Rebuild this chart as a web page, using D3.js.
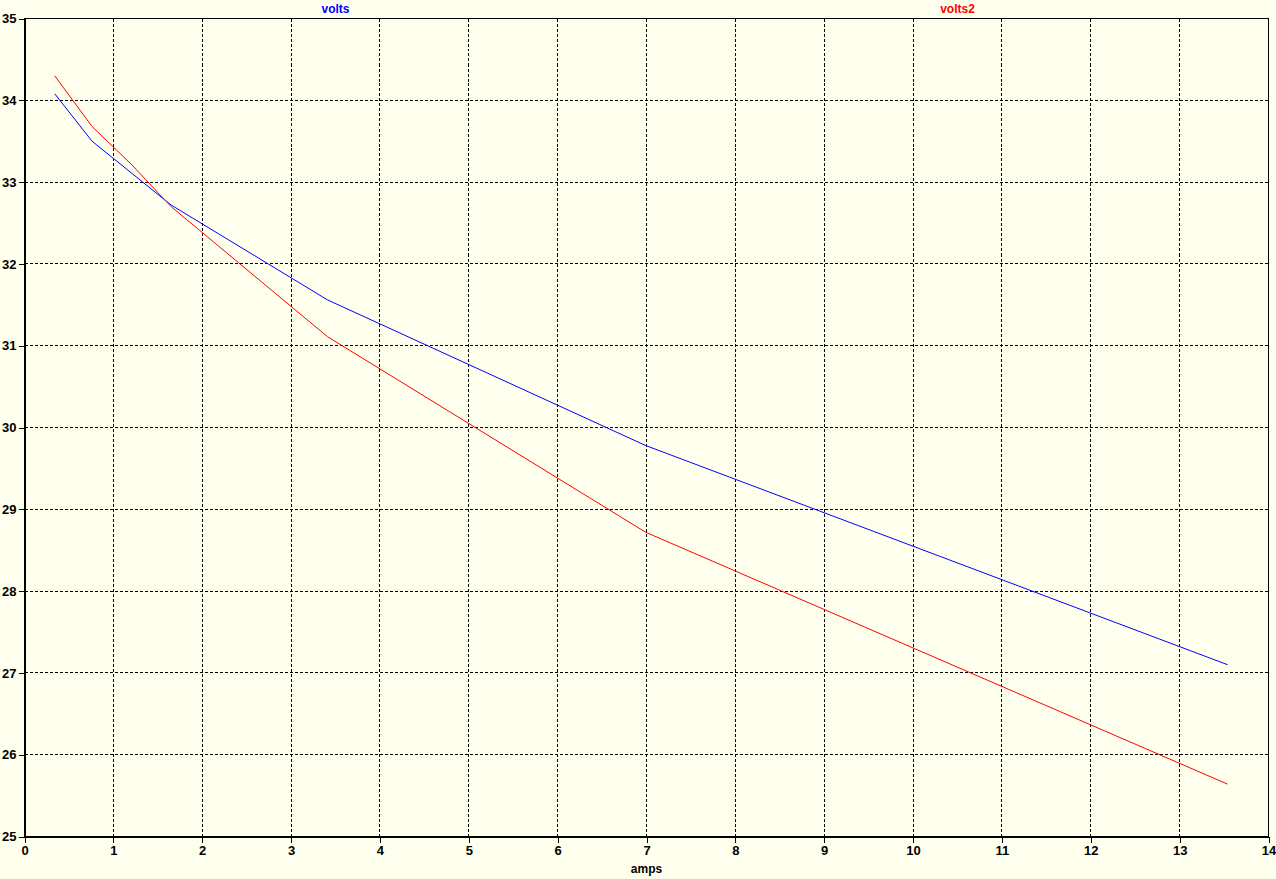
<!DOCTYPE html>
<html>
<head>
<meta charset="utf-8">
<script src="https://cdn.jsdelivr.net/npm/d3@7"></script>
<style>
html, body { margin: 0; padding: 0; background: #ffffee; }
svg { display: block; }
text { font-family: "Liberation Sans", Arial, sans-serif; font-weight: bold; font-size: 12px; }
</style>
</head>
<body>
<script>
// Data
const ampsVolts = [0.34, 0.76, 1.65, 3.41, 6.99, 13.54];
const volts = [34.08, 33.50, 32.72, 31.56, 29.78, 27.10];
const ampsVolts2 = [0.34, 0.76, 1.2, 1.65, 3.41, 6.99, 13.54];
const volts2 = [34.30, 33.68, 33.22, 32.70, 31.11, 28.72, 25.64];
const xTicks = [0,1,2,3,4,5,6,7,8,9,10,11,12,13,14];
const yTicks = [25,26,27,28,29,30,31,32,33,34,35];
const seriesNames = ["volts", "volts2"];
const seriesColors = ["#0000ff", "#ff0000"];
const xLabel = "amps";

const W = 1276, H = 879;
const m = { left: 24.5, right: 7.5, top: 18.5, bottom: 42.5 };

const svg = d3.select("body").append("svg").attr("width", W).attr("height", H);
svg.append("rect").attr("width", W).attr("height", H).attr("fill", "#ffffee");

const x = d3.scaleLinear().domain([0, 14]).range([m.left, W - m.right]);
const y = d3.scaleLinear().domain([25, 35]).range([H - m.bottom, m.top]);

const snap = v => Math.round(v - 0.5) + 0.5;

// grid
const grid = svg.append("g").attr("stroke", "#000").attr("stroke-width", 1)
  .attr("stroke-dasharray", "3,2").attr("shape-rendering", "crispEdges");
xTicks.slice(1, -1).forEach(t => {
  grid.append("line").attr("x1", snap(x(t))).attr("x2", snap(x(t)))
    .attr("y1", y(35)).attr("y2", y(25));
});
yTicks.slice(1, -1).forEach(t => {
  grid.append("line").attr("y1", snap(y(t))).attr("y2", snap(y(t)))
    .attr("x1", x(0)).attr("x2", x(14));
});

// frame
svg.append("rect").attr("x", x(0)).attr("y", y(35))
  .attr("width", x(14) - x(0)).attr("height", y(25) - y(35))
  .attr("fill", "none").attr("stroke", "#000").attr("shape-rendering", "crispEdges");

// axes
const xAxis = d3.axisBottom(x).tickValues(xTicks).tickSize(6).tickSizeOuter(0).tickPadding(3);
const gx = svg.append("g").attr("transform", `translate(0,${y(25)})`).call(xAxis);
const yAxis = d3.axisLeft(y).tickValues(yTicks).tickSize(6).tickSizeOuter(0).tickPadding(2);
const gy = svg.append("g").attr("transform", `translate(${x(0)},0)`).call(yAxis);
[gx, gy].forEach(g => {
  g.select(".domain").attr("stroke", "#000").attr("shape-rendering", "crispEdges");
  g.selectAll(".tick line").attr("stroke", "#000").attr("shape-rendering", "crispEdges");
  g.selectAll(".tick text").attr("fill", "#000")
    .style("font-family", "'Liberation Sans', Arial, sans-serif")
    .style("font-weight", "bold").style("font-size", "13px");
});

// lines
const line = d3.line().x(d => x(d[0])).y(d => y(d[1]));
const series = [
  d3.zip(ampsVolts, volts),
  d3.zip(ampsVolts2, volts2)
];
series.forEach((s, i) => {
  svg.append("path").datum(s).attr("d", line)
    .attr("fill", "none").attr("stroke", seriesColors[i]).attr("stroke-width", 1);
});

// legend labels
const legendX = [3.5, 10.5];
seriesNames.forEach((n, i) => {
  svg.append("text").attr("x", x(legendX[i])).attr("y", 13)
    .attr("text-anchor", "middle").attr("fill", seriesColors[i]).text(n);
});

// x label
svg.append("text").attr("x", x(7)).attr("y", 873)
  .attr("text-anchor", "middle").attr("fill", "#000").text(xLabel);
</script>
</body>
</html>
